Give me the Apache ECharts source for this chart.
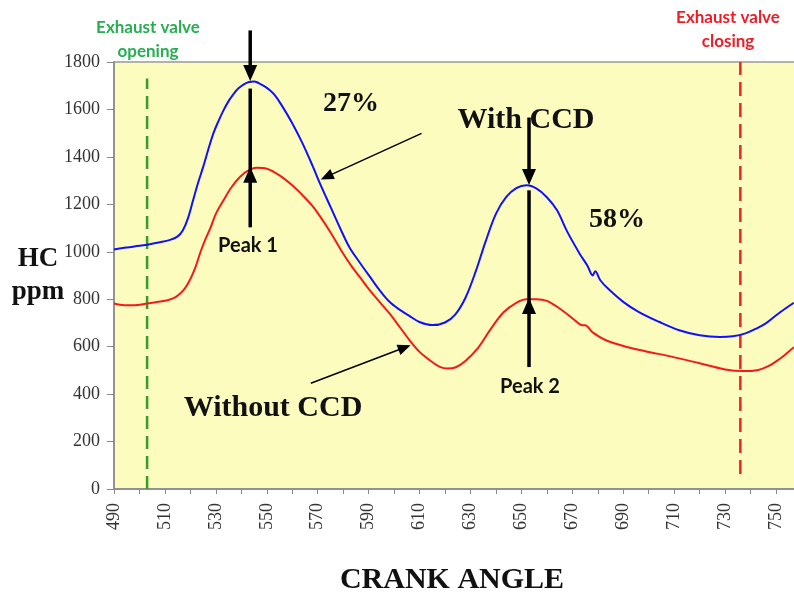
<!DOCTYPE html>
<html>
<head>
<meta charset="utf-8">
<title>HC ppm vs crank angle</title>
<script src="https://cdn.jsdelivr.net/npm/echarts@6/dist/echarts.min.js"></script>
<style>
  html, body { margin: 0; padding: 0; background: #ffffff; }
  #main { width: 794px; height: 594px; }
</style>
</head>
<body>
<div id="main"></div>
<script>
  // HC (ppm) against crank angle
  const withCCD = [
    [490, 1010], [495, 1018], [500, 1025], [503, 1030], [508, 1040], [512, 1050], [515, 1065],
    [517, 1090], [519, 1140], [521, 1215], [523, 1290], [525, 1357], [527, 1430], [529, 1498],
    [531, 1550], [533, 1596], [535, 1635], [537, 1666], [539, 1690], [541, 1706], [543, 1716],
    [545, 1718], [547, 1710], [549, 1698], [551, 1683], [553, 1662], [556, 1615], [560, 1542],
    [564, 1458], [568, 1362], [571, 1285], [575, 1190], [579, 1095], [582.5, 1018], [586.5, 955],
    [590.4, 896], [594.3, 838], [598.2, 789], [602, 757], [606, 730], [610, 704], [615, 691],
    [620, 702], [624, 735], [628, 805], [632, 915], [636, 1045], [640, 1160], [644, 1230],
    [648, 1268], [652, 1280], [656, 1266], [660, 1230], [664, 1175], [668, 1085], [673, 990],
    [676, 940], [678, 900], [679, 918], [681, 880], [684, 845], [690, 789], [696, 747],
    [704, 705], [712, 669], [720, 648], [728, 641], [733, 644], [738, 656], [742, 675],
    [746, 698], [751, 740], [757, 785]
  ];
  const withoutCCD = [
    [490, 782], [494, 775], [498, 775], [503, 782], [508, 790], [511, 796], [514, 808],
    [516, 824], [518, 848], [520, 885], [522, 935], [524, 1000], [526, 1055], [528, 1104],
    [530, 1160], [533, 1217], [536, 1270], [539, 1310], [542, 1338], [546, 1354], [550, 1350],
    [555, 1322], [560, 1280], [565, 1228], [568, 1192], [571, 1148], [575, 1082], [579, 1010],
    [583, 944], [586.5, 894], [590.4, 838], [594.3, 789], [598.2, 740], [602.2, 683],
    [606.1, 627], [610, 578], [614, 543], [618, 515], [621, 508], [624, 512], [628, 540],
    [633, 595], [638, 675], [643, 745], [648, 785], [652, 800], [656, 800], [660, 793],
    [665, 761], [670, 720], [673, 694], [674, 690], [675, 690], [678, 660], [683, 628],
    [691, 600], [699, 580], [709, 558], [720, 530], [730, 504], [737, 497], [743, 502],
    [747, 518], [751, 545], [754, 570], [757, 598]
  ];
  // exhaust valve opening / closing crank angles
  const valveOpening = [[503, 0], [503, 1730]];
  const valveClosing = [[736, 63], [736, 1800]];

  // axis settings
  const angleMin = 490, angleMax = 761, angleStep = 10, angleLabelStep = 20;
  const ppmMin = 0, ppmMax = 1800, ppmStep = 200;

  // annotation arrows in data units: line from -> to, head tip at tip
  const arrowsThick = [
    { from: [543.5, 1933], to: [543.5, 1720], tip: [543.5, 1720] },
    { from: [543.5, 1103], to: [543.5, 1688], tip: [543.5, 1358] },
    { from: [653, 1566], to: [653, 1282], tip: [653, 1282] },
    { from: [653, 514], to: [653, 1259], tip: [653, 805] }
  ];
  const arrowsThin = [
    { from: [610.8, 1499], to: [571.2, 1305], tip: [571.2, 1305] },
    { from: [567.3, 446], to: [606.5, 606], tip: [606.5, 606] }
  ];

  const serif = '"Liberation Serif", "Times New Roman", serif';
  const sans = 'Lato, "Open Sans", sans-serif';

  let myChart = echarts.init(document.getElementById('main'));

  let option = {
    animation: false,
    grid: {
      show: true,
      left: 114,
      top: 62,
      right: -10,
      bottom: 105,
      outerBoundsMode: 'none',
      backgroundColor: '#fdfcbf',
      borderColor: '#999999',
      borderWidth: 1.5
    },
    xAxis: {
      type: 'value',
      min: angleMin,
      max: angleMax,
      interval: angleStep,
      axisLine: { show: true, lineStyle: { color: '#888888', width: 1.5 } },
      axisTick: { show: true, length: 5, lineStyle: { color: '#888888' } },
      axisLabel: {
        rotate: 90,
        margin: 14,
        fontFamily: serif,
        fontSize: 18,
        color: '#333333',
        formatter: function (v) {
          return (v - angleMin) % angleLabelStep === 0 ? String(v) : '';
        }
      },
      splitLine: { show: false }
    },
    yAxis: {
      type: 'value',
      min: ppmMin,
      max: ppmMax,
      interval: ppmStep,
      axisLine: { show: true, lineStyle: { color: '#888888', width: 1.5 } },
      axisTick: { show: true, length: 7, lineStyle: { color: '#888888' } },
      axisLabel: {
        margin: 14, fontFamily: serif, fontSize: 18, color: '#333333',
        formatter: function (v) { return String(v); }
      },
      splitLine: { show: false }
    },
    series: [
      {
        name: 'Exhaust valve opening',
        type: 'line',
        data: valveOpening,
        showSymbol: false,
        silent: true,
        lineStyle: { color: '#3a9a2b', width: 2.5, type: [13, 7] }
      },
      {
        name: 'Exhaust valve closing',
        type: 'line',
        data: valveClosing,
        showSymbol: false,
        silent: true,
        lineStyle: { color: '#e8242c', width: 2.5, type: [14, 7] }
      },
      {
        name: 'With CCD',
        type: 'line',
        data: withCCD,
        smooth: 0.35,
        showSymbol: false,
        lineStyle: { color: '#1010ff', width: 2 }
      },
      {
        name: 'Without CCD',
        type: 'line',
        data: withoutCCD,
        smooth: 0.35,
        showSymbol: false,
        lineStyle: { color: '#f41a1a', width: 2 }
      }
    ]
  };
  myChart.setOption(option);

  // arrows built from the chart's own scales
  function toPx(p) {
    return myChart.convertToPixel({ gridIndex: 0 }, p);
  }
  function arrowParts(a, width, headLen, headHalf) {
    let p0 = toPx(a.from), p1 = toPx(a.to), t = toPx(a.tip);
    let dx = p1[0] - p0[0], dy = p1[1] - p0[1];
    let len = Math.sqrt(dx * dx + dy * dy);
    let ux = dx / len, uy = dy / len;
    let end = p1;
    // stop the shaft under the head when the head sits at the end
    if (a.to[0] === a.tip[0] && a.to[1] === a.tip[1]) {
      end = [p1[0] - ux * headLen * 0.6, p1[1] - uy * headLen * 0.6];
    }
    let bx = t[0] - ux * headLen, by = t[1] - uy * headLen;
    return [
      {
        type: 'line', z: 100,
        shape: { x1: p0[0], y1: p0[1], x2: end[0], y2: end[1] },
        style: { stroke: '#000000', lineWidth: width }
      },
      {
        type: 'polygon', z: 101,
        shape: { points: [[t[0], t[1]], [bx - uy * headHalf, by + ux * headHalf], [bx + uy * headHalf, by - ux * headHalf]] },
        style: { fill: '#000000' }
      }
    ];
  }

  let graphics = [];
  arrowsThick.forEach(a => { graphics = graphics.concat(arrowParts(a, 3.5, 16, 7)); });
  arrowsThin.forEach(a => { graphics = graphics.concat(arrowParts(a, 1.5, 13, 5.5)); });

  function label(text, x, y, font, color, lineHeight) {
    return {
      type: 'text', z: 102, x: x, y: y,
      style: {
        text: text, font: font, fill: color,
        align: 'center', verticalAlign: 'middle',
        lineHeight: lineHeight || undefined
      }
    };
  }

  graphics.push(
    label('Exhaust valve\nopening', 148, 40, 'bold 17px ' + sans, '#26ae50', 24),
    label('Exhaust valve\nclosing', 728, 30, 'bold 17px ' + sans, '#ee1c24', 24),
    label('27%', 351, 104, 'bold 28px ' + serif, '#111111'),
    label('With CCD', 526, 120, 'bold 30px ' + serif, '#111111'),
    label('58%', 617, 220, 'bold 28px ' + serif, '#111111'),
    label('Without CCD', 273, 408, 'bold 30px ' + serif, '#111111'),
    label('Peak 1', 248, 246, 'bold 20px ' + sans, '#111111'),
    label('Peak 2', 530, 387, 'bold 20px ' + sans, '#111111'),
    label('HC', 38, 259, 'bold 27px ' + serif, '#111111'),
    label('ppm', 38, 292, 'bold 27px ' + serif, '#111111'),
    label('CRANK ANGLE', 452, 580, 'bold 30px ' + serif, '#111111')
  );

  myChart.setOption({ graphic: graphics });
</script>
</body>
</html>
